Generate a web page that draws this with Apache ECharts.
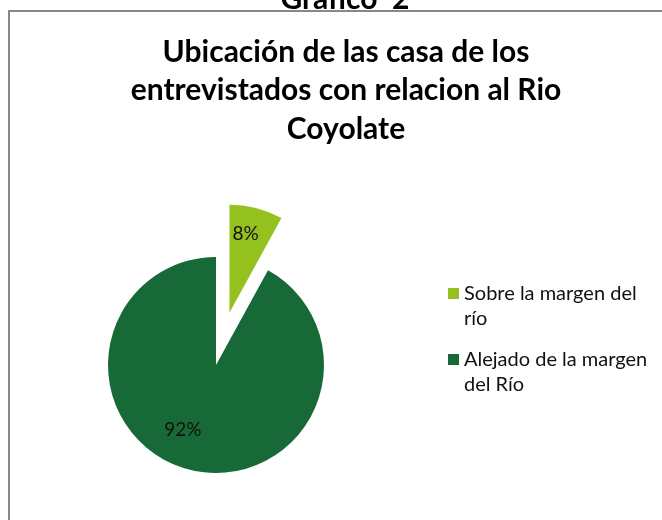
<!DOCTYPE html>
<html>
<head>
<meta charset="utf-8">
<script src="https://cdn.jsdelivr.net/npm/echarts@6/dist/echarts.min.js"></script>
<style>
html,body{margin:0;padding:0;background:#fff;}
#c{width:662px;height:520px;}
</style>
</head>
<body>
<div id="c"></div>
<script>
var categories = ['Sobre la margen del río', 'Alejado de la margen del Río'];
var legendLabels = ['Sobre la margen del\nrío', 'Alejado de la margen\ndel Río'];
var values = [8, 92];
var colors = ['#95C11F', '#176937'];
var chartTitle = 'Ubicación de las casa de los\nentrevistados con relacion al Rio\nCoyolate';
var topCaption = 'Grafico  2';

var chart = echarts.init(document.getElementById('c'), null, {renderer: 'canvas'});
var FONT = 'Lato';
// legend icon: square aligned with the first text line of a two-line entry
var LEGEND_ICON = 'path://M0,0L0.01,0M0,50L0.01,50M0,7L11,7L11,18L0,18Z';

var data = categories.map(function (name, i) {
  var off = i === 0 ? [2, -24] : [-19, 10];
  var item = {
    name: name,
    value: values[i],
    itemStyle: {color: colors[i]},
    label: {offset: off},
    select: {label: {offset: off}, itemStyle: {color: colors[i]}}
  };
  if (i === 0) item.selected = true;
  return item;
});

chart.setOption({
  animation: false,
  graphic: [
    {
      type: 'rect',
      shape: {x: 9, y: 11, width: 700, height: 600},
      style: {fill: 'none', stroke: '#888888', lineWidth: 2},
      silent: true
    },
    {
      type: 'text',
      x: 345, y: -1,
      style: {
        text: topCaption,
        align: 'center',
        verticalAlign: 'middle',
        font: 'bold 30px ' + FONT,
        fill: '#000'
      }
    }
  ],
  title: {
    text: chartTitle,
    left: 341,
    top: 28,
    textAlign: 'center',
    textStyle: {
      fontFamily: FONT,
      fontWeight: 'bold',
      fontSize: 30,
      lineHeight: 38.5,
      color: '#000'
    }
  },
  legend: {
    orient: 'vertical',
    left: 448,
    top: 281,
    padding: 0,
    itemWidth: 11,
    itemHeight: 50,
    itemGap: 16,
    icon: LEGEND_ICON,
    selectedMode: false,
    formatter: function (name) {
      return legendLabels[categories.indexOf(name)];
    },
    textStyle: {
      fontFamily: FONT,
      fontSize: 20,
      lineHeight: 25,
      color: '#111'
    }
  },
  series: [{
    type: 'pie',
    center: [216, 365],
    radius: 108,
    startAngle: 90,
    clockwise: true,
    selectedMode: 'single',
    selectedOffset: 54,
    avoidLabelOverlap: false,
    emphasis: {disabled: true, scale: false},
    label: {
      show: true,
      position: 'inside',
      fontFamily: FONT,
      fontSize: 19,
      color: '#111',
      formatter: function (p) { return Math.round(p.percent) + '%'; }
    },
    labelLine: {show: false},
    itemStyle: {borderWidth: 0},
    data: data
  }]
});
</script>
</body>
</html>
